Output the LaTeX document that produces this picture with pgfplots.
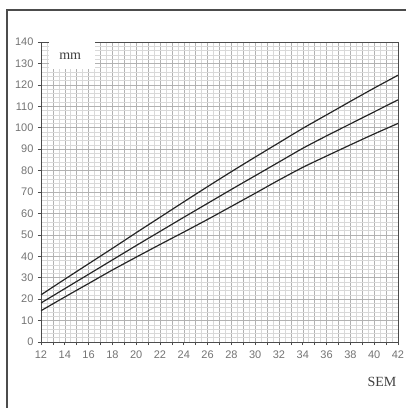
\documentclass[border=0pt]{standalone}
\usepackage{pgfplots}
\pgfplotsset{compat=1.18}
\usepackage{fontspec}
\setmainfont{Liberation Serif}
\newfontfamily\arialf{Liberation Sans}
\definecolor{gridmaj}{gray}{0.70}
\definecolor{gridmin}{gray}{0.85}
\definecolor{axgray}{gray}{0.30}
\definecolor{lblgray}{gray}{0.45}
\begin{document}
\begin{tikzpicture}[x=1pt,y=1pt]
\useasboundingbox (0,0) rectangle (406,408);
\draw[axgray, line width=1.3pt] (7,-5) -- (7,398) -- (411,398);
\begin{axis}[
  at={(41pt,66pt)}, anchor=south west,
  scale only axis, width=357pt, height=300pt,
  xmin=12, xmax=42, ymin=0, ymax=140,
  xtick={12,...,42},
  xticklabels={12,,14,,16,,18,,20,,22,,24,,26,,28,,30,,32,,34,,36,,38,,40,,42},
  ytick={0,10,...,140},
  xtick pos=left, ytick pos=left,
  minor x tick num=1,
  minor y tick num=4,
  grid=both,
  major grid style={gridmaj, line width=0.55pt},
  minor grid style={gridmin, line width=0.5pt},
  tick align=outside,
  major tick length=3pt,
  minor tick length=0pt,
  tick style={axgray, line width=0.6pt},
  axis line style={axgray, line width=0.9pt},
  tick label style={font=\arialf\fontsize{11}{13}\selectfont, text=lblgray},
  /pgf/number format/assume math mode=true,
  xticklabel style={yshift=-2pt},
  yticklabel style={xshift=-1pt},
  clip=true,
]
\fill[white] (axis cs:12.65,127.4) rectangle (axis cs:16.5,139.8);
\addplot[black!85, line width=1.2pt, smooth] coordinates {
(12,22) (14,29.3) (16,36.5) (18,43.7) (20,51) (22,58.2) (24,65.4) (26,72.5)
(28,79.5) (30,86.3) (32,93) (34,99.7) (36,106) (38,112.3) (40,118.5) (42,124.5)};
\addplot[black!85, line width=1.2pt, smooth] coordinates {
(12,18.2) (14,24.9) (16,31.6) (18,38.3) (20,45) (22,51.6) (24,58.2) (26,64.7)
(28,71.2) (30,77.6) (32,84) (34,90.4) (36,96.2) (38,101.8) (40,107.4) (42,113)};
\addplot[black!85, line width=1.2pt, smooth] coordinates {
(12,14.6) (14,21) (16,27.3) (18,33.6) (20,39.6) (22,45.5) (24,51.3) (26,57.2)
(28,63.3) (30,69.4) (32,75.6) (34,81.5) (36,86.8) (38,92) (40,97.1) (42,102)};
\node[font=\fontsize{14}{16}\selectfont, text=black!75] at (axis cs:14.45,133.3) {mm};
\end{axis}
\node[font=\fontsize{14}{16}\selectfont, text=black!75] at (382,26) {SEM};
\end{tikzpicture}
\end{document}
